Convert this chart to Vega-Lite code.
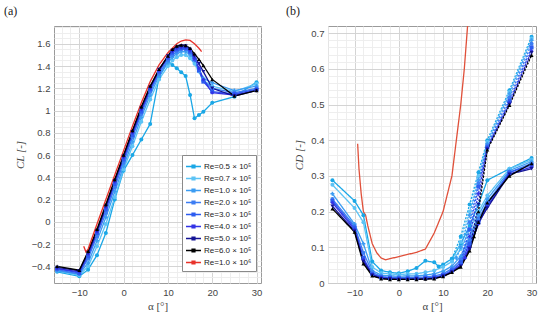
{
"$schema": "https://vega.github.io/schema/vega-lite/v6.json",
"background": "white",
"padding": {"left": 3, "top": 4, "right": 5, "bottom": 4},
"spacing": 22,
"config": {
  "view": {"stroke": "#9a9a9a", "strokeWidth": 1},
  "font": "Liberation Sans",
  "axis": {"labelFont": "Liberation Sans", "labelFontSize": 9.5, "labelColor": "#444", "titleFont": "Liberation Serif", "titleFontSize": 11, "titleFontWeight": "normal", "titleColor": "#444", "ticks": false, "domain": false, "gridColor": "#d0d0d0", "gridWidth": 0.9, "labelPadding": 4},
  "legend": {"labelFont": "Liberation Sans"}
},
"datasets": {
"cl": [
{"s":"0.5","a":-15,"cl":-0.45},{"s":"0.5","a":-10,"cl":-0.49},{"s":"0.5","a":-8,"cl":-0.43},{"s":"0.5","a":-6,"cl":-0.30},{"s":"0.5","a":-4,"cl":-0.10},{"s":"0.5","a":-2,"cl":0.20},{"s":"0.5","a":0,"cl":0.46},{"s":"0.5","a":2,"cl":0.60},{"s":"0.5","a":4,"cl":0.74},{"s":"0.5","a":6,"cl":0.88},{"s":"0.5","a":8,"cl":1.30},{"s":"0.5","a":10,"cl":1.44},{"s":"0.5","a":11,"cl":1.41},{"s":"0.5","a":12,"cl":1.38},{"s":"0.5","a":13,"cl":1.345},{"s":"0.5","a":14,"cl":1.31},{"s":"0.5","a":15,"cl":1.14},{"s":"0.5","a":16,"cl":0.93},{"s":"0.5","a":17,"cl":0.96},{"s":"0.5","a":18,"cl":0.99},{"s":"0.5","a":20,"cl":1.07},{"s":"0.5","a":25,"cl":1.125},{"s":"0.5","a":30,"cl":1.255},
{"s":"0.7","a":-15,"cl":-0.44},{"s":"0.7","a":-10,"cl":-0.48},{"s":"0.7","a":-8,"cl":-0.40},{"s":"0.7","a":-6,"cl":-0.22},{"s":"0.7","a":-4,"cl":-0.02},{"s":"0.7","a":-2,"cl":0.22},{"s":"0.7","a":0,"cl":0.47},{"s":"0.7","a":2,"cl":0.68},{"s":"0.7","a":4,"cl":0.90},{"s":"0.7","a":6,"cl":1.10},{"s":"0.7","a":8,"cl":1.28},{"s":"0.7","a":10,"cl":1.40},{"s":"0.7","a":11,"cl":1.45},{"s":"0.7","a":12,"cl":1.48},{"s":"0.7","a":13,"cl":1.50},{"s":"0.7","a":14,"cl":1.50},{"s":"0.7","a":15,"cl":1.47},{"s":"0.7","a":16,"cl":1.42},{"s":"0.7","a":17,"cl":1.35},{"s":"0.7","a":18,"cl":1.27},{"s":"0.7","a":20,"cl":1.22},{"s":"0.7","a":25,"cl":1.17},{"s":"0.7","a":30,"cl":1.24},
{"s":"1.0","a":-15,"cl":-0.44},{"s":"1.0","a":-10,"cl":-0.47},{"s":"1.0","a":-8,"cl":-0.37},{"s":"1.0","a":-6,"cl":-0.17},{"s":"1.0","a":-4,"cl":0.04},{"s":"1.0","a":-2,"cl":0.27},{"s":"1.0","a":0,"cl":0.50},{"s":"1.0","a":2,"cl":0.72},{"s":"1.0","a":4,"cl":0.94},{"s":"1.0","a":6,"cl":1.14},{"s":"1.0","a":8,"cl":1.31},{"s":"1.0","a":10,"cl":1.43},{"s":"1.0","a":11,"cl":1.48},{"s":"1.0","a":12,"cl":1.51},{"s":"1.0","a":13,"cl":1.53},{"s":"1.0","a":14,"cl":1.53},{"s":"1.0","a":15,"cl":1.50},{"s":"1.0","a":16,"cl":1.45},{"s":"1.0","a":17,"cl":1.37},{"s":"1.0","a":18,"cl":1.29},{"s":"1.0","a":20,"cl":1.25},{"s":"1.0","a":25,"cl":1.18},{"s":"1.0","a":30,"cl":1.22},
{"s":"2.0","a":-15,"cl":-0.43},{"s":"2.0","a":-10,"cl":-0.47},{"s":"2.0","a":-8,"cl":-0.33},{"s":"2.0","a":-6,"cl":-0.13},{"s":"2.0","a":-4,"cl":0.08},{"s":"2.0","a":-2,"cl":0.31},{"s":"2.0","a":0,"cl":0.53},{"s":"2.0","a":2,"cl":0.76},{"s":"2.0","a":4,"cl":0.97},{"s":"2.0","a":6,"cl":1.17},{"s":"2.0","a":8,"cl":1.33},{"s":"2.0","a":10,"cl":1.45},{"s":"2.0","a":11,"cl":1.50},{"s":"2.0","a":12,"cl":1.53},{"s":"2.0","a":13,"cl":1.55},{"s":"2.0","a":14,"cl":1.55},{"s":"2.0","a":15,"cl":1.52},{"s":"2.0","a":16,"cl":1.46},{"s":"2.0","a":17,"cl":1.37},{"s":"2.0","a":18,"cl":1.27},{"s":"2.0","a":20,"cl":1.20},{"s":"2.0","a":25,"cl":1.16},{"s":"2.0","a":30,"cl":1.20},
{"s":"3.0","a":-15,"cl":-0.42},{"s":"3.0","a":-10,"cl":-0.46},{"s":"3.0","a":-8,"cl":-0.31},{"s":"3.0","a":-6,"cl":-0.10},{"s":"3.0","a":-4,"cl":0.11},{"s":"3.0","a":-2,"cl":0.34},{"s":"3.0","a":0,"cl":0.56},{"s":"3.0","a":2,"cl":0.78},{"s":"3.0","a":4,"cl":0.99},{"s":"3.0","a":6,"cl":1.19},{"s":"3.0","a":8,"cl":1.35},{"s":"3.0","a":10,"cl":1.47},{"s":"3.0","a":11,"cl":1.52},{"s":"3.0","a":12,"cl":1.55},{"s":"3.0","a":13,"cl":1.56},{"s":"3.0","a":14,"cl":1.56},{"s":"3.0","a":15,"cl":1.53},{"s":"3.0","a":16,"cl":1.46},{"s":"3.0","a":17,"cl":1.36},{"s":"3.0","a":18,"cl":1.26},{"s":"3.0","a":20,"cl":1.17},{"s":"3.0","a":25,"cl":1.15},{"s":"3.0","a":30,"cl":1.19},
{"s":"4.0","a":-15,"cl":-0.42},{"s":"4.0","a":-10,"cl":-0.45},{"s":"4.0","a":-8,"cl":-0.29},{"s":"4.0","a":-6,"cl":-0.09},{"s":"4.0","a":-4,"cl":0.13},{"s":"4.0","a":-2,"cl":0.36},{"s":"4.0","a":0,"cl":0.58},{"s":"4.0","a":2,"cl":0.80},{"s":"4.0","a":4,"cl":1.01},{"s":"4.0","a":6,"cl":1.20},{"s":"4.0","a":8,"cl":1.36},{"s":"4.0","a":10,"cl":1.48},{"s":"4.0","a":11,"cl":1.53},{"s":"4.0","a":12,"cl":1.56},{"s":"4.0","a":13,"cl":1.57},{"s":"4.0","a":14,"cl":1.57},{"s":"4.0","a":15,"cl":1.54},{"s":"4.0","a":16,"cl":1.47},{"s":"4.0","a":17,"cl":1.38},{"s":"4.0","a":18,"cl":1.28},{"s":"4.0","a":20,"cl":1.16},{"s":"4.0","a":25,"cl":1.14},{"s":"4.0","a":30,"cl":1.18},
{"s":"5.0","a":-15,"cl":-0.41},{"s":"5.0","a":-10,"cl":-0.44},{"s":"5.0","a":-8,"cl":-0.28},{"s":"5.0","a":-6,"cl":-0.08},{"s":"5.0","a":-4,"cl":0.14},{"s":"5.0","a":-2,"cl":0.37},{"s":"5.0","a":0,"cl":0.59},{"s":"5.0","a":2,"cl":0.81},{"s":"5.0","a":4,"cl":1.02},{"s":"5.0","a":6,"cl":1.21},{"s":"5.0","a":8,"cl":1.37},{"s":"5.0","a":10,"cl":1.49},{"s":"5.0","a":11,"cl":1.54},{"s":"5.0","a":12,"cl":1.57},{"s":"5.0","a":13,"cl":1.58},{"s":"5.0","a":14,"cl":1.58},{"s":"5.0","a":15,"cl":1.55},{"s":"5.0","a":16,"cl":1.49},{"s":"5.0","a":17,"cl":1.42},{"s":"5.0","a":18,"cl":1.35},{"s":"5.0","a":20,"cl":1.20},{"s":"5.0","a":25,"cl":1.13},{"s":"5.0","a":30,"cl":1.18},
{"s":"6.0","a":-15,"cl":-0.40},{"s":"6.0","a":-10,"cl":-0.435},{"s":"6.0","a":-8,"cl":-0.265},{"s":"6.0","a":-6,"cl":-0.066},{"s":"6.0","a":-4,"cl":0.156},{"s":"6.0","a":-2,"cl":0.38},{"s":"6.0","a":0,"cl":0.60},{"s":"6.0","a":2,"cl":0.82},{"s":"6.0","a":4,"cl":1.035},{"s":"6.0","a":6,"cl":1.22},{"s":"6.0","a":8,"cl":1.37},{"s":"6.0","a":10,"cl":1.49},{"s":"6.0","a":11,"cl":1.55},{"s":"6.0","a":12,"cl":1.58},{"s":"6.0","a":13,"cl":1.59},{"s":"6.0","a":14,"cl":1.585},{"s":"6.0","a":15,"cl":1.56},{"s":"6.0","a":16,"cl":1.51},{"s":"6.0","a":17,"cl":1.46},{"s":"6.0","a":18,"cl":1.405},{"s":"6.0","a":20,"cl":1.28},{"s":"6.0","a":25,"cl":1.13},{"s":"6.0","a":30,"cl":1.18},
{"s":"10","a":-9,"cl":-0.22},{"s":"10","a":-8.5,"cl":-0.27},{"s":"10","a":-8,"cl":-0.245},{"s":"10","a":-6,"cl":-0.02},{"s":"10","a":-4,"cl":0.20},{"s":"10","a":-2,"cl":0.42},{"s":"10","a":0,"cl":0.64},{"s":"10","a":2,"cl":0.86},{"s":"10","a":4,"cl":1.07},{"s":"10","a":6,"cl":1.26},{"s":"10","a":8,"cl":1.41},{"s":"10","a":10,"cl":1.52},{"s":"10","a":12,"cl":1.60},{"s":"10","a":13,"cl":1.625},{"s":"10","a":14,"cl":1.635},{"s":"10","a":15,"cl":1.63},{"s":"10","a":16,"cl":1.60},{"s":"10","a":17,"cl":1.56},{"s":"10","a":17.6,"cl":1.53}
],
"cd": [
{"s":"0.5","b":"m","a":-15,"cd":0.288},{"s":"0.5","b":"m","a":-10,"cd":0.23},{"s":"0.5","b":"m","a":-8,"cd":0.19},{"s":"0.5","b":"m","a":-6,"cd":0.06},{"s":"0.5","b":"m","a":-4,"cd":0.035},{"s":"0.5","b":"m","a":-2,"cd":0.03},{"s":"0.5","b":"m","a":0,"cd":0.027},{"s":"0.5","b":"m","a":2,"cd":0.033},{"s":"0.5","b":"m","a":4,"cd":0.042},{"s":"0.5","b":"m","a":6,"cd":0.062},{"s":"0.5","b":"m","a":8,"cd":0.058},{"s":"0.5","b":"m","a":9,"cd":0.046},{"s":"0.5","b":"m","a":10,"cd":0.052},{"s":"0.5","b":"m","a":12,"cd":0.068},{"s":"0.5","b":"m","a":14,"cd":0.11},{"s":"0.5","b":"m","a":16,"cd":0.16},{"s":"0.5","b":"m","a":18,"cd":0.22},{"s":"0.5","b":"m","a":20,"cd":0.288},{"s":"0.5","b":"m","a":25,"cd":0.32},{"s":"0.5","b":"m","a":30,"cd":0.35},
{"s":"0.7","b":"m","a":-15,"cd":0.275},{"s":"0.7","b":"m","a":-10,"cd":0.21},{"s":"0.7","b":"m","a":-8,"cd":0.17},{"s":"0.7","b":"m","a":-6,"cd":0.045},{"s":"0.7","b":"m","a":-4,"cd":0.028},{"s":"0.7","b":"m","a":-2,"cd":0.025},{"s":"0.7","b":"m","a":0,"cd":0.024},{"s":"0.7","b":"m","a":2,"cd":0.025},{"s":"0.7","b":"m","a":4,"cd":0.026},{"s":"0.7","b":"m","a":6,"cd":0.03},{"s":"0.7","b":"m","a":8,"cd":0.035},{"s":"0.7","b":"m","a":10,"cd":0.045},{"s":"0.7","b":"m","a":12,"cd":0.06},{"s":"0.7","b":"m","a":14,"cd":0.095},{"s":"0.7","b":"m","a":16,"cd":0.15},{"s":"0.7","b":"m","a":18,"cd":0.2},{"s":"0.7","b":"m","a":20,"cd":0.245},{"s":"0.7","b":"m","a":25,"cd":0.32},{"s":"0.7","b":"m","a":30,"cd":0.345},
{"s":"1.0","b":"m","a":-15,"cd":0.25},{"s":"1.0","b":"m","a":-10,"cd":0.165},{"s":"1.0","b":"m","a":-8,"cd":0.11},{"s":"1.0","b":"m","a":-6,"cd":0.035},{"s":"1.0","b":"m","a":-4,"cd":0.022},{"s":"1.0","b":"m","a":-2,"cd":0.02},{"s":"1.0","b":"m","a":0,"cd":0.019},{"s":"1.0","b":"m","a":2,"cd":0.02},{"s":"1.0","b":"m","a":4,"cd":0.02},{"s":"1.0","b":"m","a":6,"cd":0.022},{"s":"1.0","b":"m","a":8,"cd":0.026},{"s":"1.0","b":"m","a":10,"cd":0.033},{"s":"1.0","b":"m","a":12,"cd":0.047},{"s":"1.0","b":"m","a":14,"cd":0.075},{"s":"1.0","b":"m","a":16,"cd":0.13},{"s":"1.0","b":"m","a":18,"cd":0.19},{"s":"1.0","b":"m","a":20,"cd":0.235},{"s":"1.0","b":"m","a":25,"cd":0.315},{"s":"1.0","b":"m","a":30,"cd":0.34},
{"s":"2.0","b":"m","a":-15,"cd":0.235},{"s":"2.0","b":"m","a":-10,"cd":0.16},{"s":"2.0","b":"m","a":-8,"cd":0.085},{"s":"2.0","b":"m","a":-6,"cd":0.03},{"s":"2.0","b":"m","a":-4,"cd":0.018},{"s":"2.0","b":"m","a":-2,"cd":0.016},{"s":"2.0","b":"m","a":0,"cd":0.015},{"s":"2.0","b":"m","a":2,"cd":0.015},{"s":"2.0","b":"m","a":4,"cd":0.016},{"s":"2.0","b":"m","a":6,"cd":0.017},{"s":"2.0","b":"m","a":8,"cd":0.02},{"s":"2.0","b":"m","a":10,"cd":0.026},{"s":"2.0","b":"m","a":12,"cd":0.04},{"s":"2.0","b":"m","a":14,"cd":0.065},{"s":"2.0","b":"m","a":16,"cd":0.12},{"s":"2.0","b":"m","a":18,"cd":0.18},{"s":"2.0","b":"m","a":20,"cd":0.225},{"s":"2.0","b":"m","a":25,"cd":0.31},{"s":"2.0","b":"m","a":30,"cd":0.335},
{"s":"3.0","b":"m","a":-15,"cd":0.23},{"s":"3.0","b":"m","a":-10,"cd":0.155},{"s":"3.0","b":"m","a":-8,"cd":0.07},{"s":"3.0","b":"m","a":-6,"cd":0.025},{"s":"3.0","b":"m","a":-4,"cd":0.016},{"s":"3.0","b":"m","a":-2,"cd":0.014},{"s":"3.0","b":"m","a":0,"cd":0.013},{"s":"3.0","b":"m","a":2,"cd":0.013},{"s":"3.0","b":"m","a":4,"cd":0.013},{"s":"3.0","b":"m","a":6,"cd":0.014},{"s":"3.0","b":"m","a":8,"cd":0.016},{"s":"3.0","b":"m","a":10,"cd":0.022},{"s":"3.0","b":"m","a":12,"cd":0.035},{"s":"3.0","b":"m","a":14,"cd":0.058},{"s":"3.0","b":"m","a":16,"cd":0.11},{"s":"3.0","b":"m","a":18,"cd":0.17},{"s":"3.0","b":"m","a":20,"cd":0.22},{"s":"3.0","b":"m","a":25,"cd":0.31},{"s":"3.0","b":"m","a":30,"cd":0.33},
{"s":"4.0","b":"m","a":-15,"cd":0.225},{"s":"4.0","b":"m","a":-10,"cd":0.15},{"s":"4.0","b":"m","a":-8,"cd":0.065},{"s":"4.0","b":"m","a":-6,"cd":0.024},{"s":"4.0","b":"m","a":-4,"cd":0.015},{"s":"4.0","b":"m","a":-2,"cd":0.012},{"s":"4.0","b":"m","a":0,"cd":0.011},{"s":"4.0","b":"m","a":2,"cd":0.011},{"s":"4.0","b":"m","a":4,"cd":0.011},{"s":"4.0","b":"m","a":6,"cd":0.012},{"s":"4.0","b":"m","a":8,"cd":0.014},{"s":"4.0","b":"m","a":10,"cd":0.02},{"s":"4.0","b":"m","a":12,"cd":0.032},{"s":"4.0","b":"m","a":14,"cd":0.052},{"s":"4.0","b":"m","a":16,"cd":0.1},{"s":"4.0","b":"m","a":18,"cd":0.165},{"s":"4.0","b":"m","a":20,"cd":0.215},{"s":"4.0","b":"m","a":25,"cd":0.305},{"s":"4.0","b":"m","a":30,"cd":0.325},
{"s":"5.0","b":"m","a":-15,"cd":0.215},{"s":"5.0","b":"m","a":-10,"cd":0.145},{"s":"5.0","b":"m","a":-8,"cd":0.06},{"s":"5.0","b":"m","a":-6,"cd":0.022},{"s":"5.0","b":"m","a":-4,"cd":0.013},{"s":"5.0","b":"m","a":-2,"cd":0.011},{"s":"5.0","b":"m","a":0,"cd":0.01},{"s":"5.0","b":"m","a":2,"cd":0.01},{"s":"5.0","b":"m","a":4,"cd":0.011},{"s":"5.0","b":"m","a":6,"cd":0.011},{"s":"5.0","b":"m","a":8,"cd":0.013},{"s":"5.0","b":"m","a":10,"cd":0.019},{"s":"5.0","b":"m","a":12,"cd":0.03},{"s":"5.0","b":"m","a":14,"cd":0.048},{"s":"5.0","b":"m","a":16,"cd":0.095},{"s":"5.0","b":"m","a":18,"cd":0.17},{"s":"5.0","b":"m","a":20,"cd":0.21},{"s":"5.0","b":"m","a":25,"cd":0.305},{"s":"5.0","b":"m","a":30,"cd":0.32},
{"s":"6.0","b":"m","a":-15,"cd":0.208},{"s":"6.0","b":"m","a":-10,"cd":0.143},{"s":"6.0","b":"m","a":-8,"cd":0.054},{"s":"6.0","b":"m","a":-6,"cd":0.02},{"s":"6.0","b":"m","a":-4,"cd":0.012},{"s":"6.0","b":"m","a":-2,"cd":0.01},{"s":"6.0","b":"m","a":0,"cd":0.01},{"s":"6.0","b":"m","a":2,"cd":0.01},{"s":"6.0","b":"m","a":4,"cd":0.01},{"s":"6.0","b":"m","a":6,"cd":0.011},{"s":"6.0","b":"m","a":8,"cd":0.012},{"s":"6.0","b":"m","a":10,"cd":0.018},{"s":"6.0","b":"m","a":12,"cd":0.03},{"s":"6.0","b":"m","a":14,"cd":0.045},{"s":"6.0","b":"m","a":16,"cd":0.09},{"s":"6.0","b":"m","a":18,"cd":0.17},{"s":"6.0","b":"m","a":20,"cd":0.225},{"s":"6.0","b":"m","a":25,"cd":0.30},{"s":"6.0","b":"m","a":30,"cd":0.335},
{"s":"0.5","b":"d","a":12,"cd":0.068},{"s":"0.5","b":"d","a":14,"cd":0.13},{"s":"0.5","b":"d","a":16,"cd":0.22},{"s":"0.5","b":"d","a":18,"cd":0.31},{"s":"0.5","b":"d","a":20,"cd":0.40},{"s":"0.5","b":"d","a":25,"cd":0.54},{"s":"0.5","b":"d","a":30,"cd":0.69},
{"s":"0.7","b":"d","a":12,"cd":0.06},{"s":"0.7","b":"d","a":14,"cd":0.115},{"s":"0.7","b":"d","a":16,"cd":0.2},{"s":"0.7","b":"d","a":18,"cd":0.3},{"s":"0.7","b":"d","a":20,"cd":0.395},{"s":"0.7","b":"d","a":25,"cd":0.535},{"s":"0.7","b":"d","a":30,"cd":0.685},
{"s":"1.0","b":"d","a":13,"cd":0.07},{"s":"1.0","b":"d","a":14,"cd":0.1},{"s":"1.0","b":"d","a":16,"cd":0.19},{"s":"1.0","b":"d","a":18,"cd":0.29},{"s":"1.0","b":"d","a":20,"cd":0.39},{"s":"1.0","b":"d","a":25,"cd":0.53},{"s":"1.0","b":"d","a":30,"cd":0.68},
{"s":"2.0","b":"d","a":14,"cd":0.065},{"s":"2.0","b":"d","a":16,"cd":0.17},{"s":"2.0","b":"d","a":18,"cd":0.28},{"s":"2.0","b":"d","a":20,"cd":0.385},{"s":"2.0","b":"d","a":25,"cd":0.52},{"s":"2.0","b":"d","a":30,"cd":0.67},
{"s":"3.0","b":"d","a":14,"cd":0.058},{"s":"3.0","b":"d","a":16,"cd":0.15},{"s":"3.0","b":"d","a":18,"cd":0.27},{"s":"3.0","b":"d","a":20,"cd":0.38},{"s":"3.0","b":"d","a":25,"cd":0.51},{"s":"3.0","b":"d","a":30,"cd":0.66},
{"s":"4.0","b":"d","a":15,"cd":0.07},{"s":"4.0","b":"d","a":16,"cd":0.13},{"s":"4.0","b":"d","a":18,"cd":0.25},{"s":"4.0","b":"d","a":20,"cd":0.378},{"s":"4.0","b":"d","a":25,"cd":0.505},{"s":"4.0","b":"d","a":30,"cd":0.65},
{"s":"5.0","b":"d","a":16,"cd":0.095},{"s":"5.0","b":"d","a":18,"cd":0.22},{"s":"5.0","b":"d","a":20,"cd":0.375},{"s":"5.0","b":"d","a":25,"cd":0.50},{"s":"5.0","b":"d","a":30,"cd":0.645},
{"s":"6.0","b":"d","a":17,"cd":0.13},{"s":"6.0","b":"d","a":18,"cd":0.2},{"s":"6.0","b":"d","a":20,"cd":0.373},{"s":"6.0","b":"d","a":25,"cd":0.498},{"s":"6.0","b":"d","a":30,"cd":0.638},
{"s":"10","b":"m","a":-9.3,"cd":0.39},{"s":"10","b":"m","a":-9,"cd":0.32},{"s":"10","b":"m","a":-8.5,"cd":0.25},{"s":"10","b":"m","a":-8,"cd":0.2},{"s":"10","b":"m","a":-7.5,"cd":0.19},{"s":"10","b":"m","a":-7,"cd":0.16},{"s":"10","b":"m","a":-6,"cd":0.11},{"s":"10","b":"m","a":-5,"cd":0.085},{"s":"10","b":"m","a":-4,"cd":0.07},{"s":"10","b":"m","a":-3,"cd":0.065},{"s":"10","b":"m","a":-2,"cd":0.068},{"s":"10","b":"m","a":0,"cd":0.074},{"s":"10","b":"m","a":2,"cd":0.08},{"s":"10","b":"m","a":4,"cd":0.086},{"s":"10","b":"m","a":6,"cd":0.095},{"s":"10","b":"m","a":8,"cd":0.14},{"s":"10","b":"m","a":10,"cd":0.2},{"s":"10","b":"m","a":12,"cd":0.3},{"s":"10","b":"m","a":13,"cd":0.4},{"s":"10","b":"m","a":14,"cd":0.5},{"s":"10","b":"m","a":14.8,"cd":0.6},{"s":"10","b":"m","a":15.6,"cd":0.73}
]
},
"hconcat": [
{
  "width": 207, "height": 257,
  "title": {"text": "(a)", "anchor": "start", "frame": "group", "dx": -50, "font": "Liberation Serif", "fontSize": 12, "fontWeight": "normal", "color": "#222", "offset": 8},
  "data": {"name": "cl"},
  "layer": [
    {"mark": {"type": "line", "strokeWidth": 1.3, "clip": true},
     "encoding": {
       "x": {"field": "a", "type": "quantitative", "scale": {"domain": [-15.7, 31], "nice": false, "zero": false},
             "axis": {"orient": "bottom", "values": [-14,-12,-10,-8,-6,-4,-2,0,2,4,6,8,10,12,14,16,18,20,22,24,26,28,30], "grid": true, "gridColor": "#ececec", "labels": false, "title": null}},
       "y": {"field": "cl", "type": "quantitative", "scale": {"domain": [-0.55, 1.76], "nice": false, "zero": false},
             "axis": {"orient": "left", "values": [-0.5,-0.45,-0.4,-0.35,-0.3,-0.25,-0.2,-0.15,-0.1,-0.05,0,0.05,0.1,0.15,0.2,0.25,0.3,0.35,0.4,0.45,0.5,0.55,0.6,0.65,0.7,0.75,0.8,0.85,0.9,0.95,1,1.05,1.1,1.15,1.2,1.25,1.3,1.35,1.4,1.45,1.5,1.55,1.6,1.65,1.7,1.75], "grid": true, "gridColor": "#ececec", "labels": false, "title": null}},
       "color": {"field": "s", "type": "nominal",
                 "scale": {"domain": ["0.5","0.7","1.0","2.0","3.0","4.0","5.0","6.0","10"], "range": ["#1aa7e6","#5cc3f5","#3b9cf2","#3c7df3","#2d5cf0","#3333e6","#141496","#000000","#e8322a"]},
                 "legend": {"orient": "none", "legendX": 128, "legendY": 129, "title": null, "strokeColor": "#8a8a8a", "fillColor": "white", "padding": 4, "labelFontSize": 8, "labelColor": "#222", "rowPadding": -2.2, "symbolType": "M-1,-0.09H1V0.09H-1Z M-0.28,-0.28H0.28V0.28H-0.28Z", "symbolSize": 225, "symbolStrokeWidth": 0, "labelOffset": 3,
                            "labelExpr": "datum.label == '10' ? 'Re=1.0 × 10⁶' : 'Re=' + datum.label + ' × 10⁵'"}}
     }},
    {"mark": {"type": "point", "filled": true, "size": 16, "opacity": 1},
     "transform": [{"filter": "datum.s !== '10'"}],
     "encoding": {
       "x": {"field": "a", "type": "quantitative", "axis": {"orient": "bottom", "values": [-10,0,10,20,30], "grid": true, "title": "α [°]"}},
       "y": {"field": "cl", "type": "quantitative", "axis": {"orient": "left", "values": [-0.4,-0.2,0,0.2,0.4,0.6,0.8,1,1.2,1.4,1.6], "grid": true, "format": "~g", "title": "CL [-]", "titleFontStyle": "italic", "titlePadding": 6}},
       "color": {"field": "s", "type": "nominal"},
       "shape": {"field": "s", "type": "nominal", "legend": null,
                 "scale": {"domain": ["0.5","0.7","1.0","2.0","3.0","4.0","5.0","6.0","10"], "range": ["circle","circle","cross","circle","square","diamond","triangle-down","triangle-up","circle"]}}
     }}
  ],
  "resolve": {"axis": {"x": "independent", "y": "independent"}}
},
{
  "width": 208, "height": 257,
  "title": {"text": "(b)", "anchor": "start", "frame": "group", "dx": -42, "font": "Liberation Serif", "fontSize": 12, "fontWeight": "normal", "color": "#222", "offset": 8},
  "data": {"name": "cd"},
  "layer": [
    {"mark": {"type": "line", "strokeWidth": 1.3, "clip": true},
     "encoding": {
       "x": {"field": "a", "type": "quantitative", "scale": {"domain": [-16, 31], "nice": false, "zero": false},
             "axis": {"orient": "bottom", "values": [-16,-14,-12,-10,-8,-6,-4,-2,0,2,4,6,8,10,12,14,16,18,20,22,24,26,28,30], "grid": true, "gridColor": "#ececec", "labels": false, "title": null}},
       "y": {"field": "cd", "type": "quantitative", "scale": {"domain": [0, 0.72], "nice": false, "zero": false},
             "axis": {"orient": "left", "values": [0.02,0.04,0.06,0.08,0.1,0.12,0.14,0.16,0.18,0.2,0.22,0.24,0.26,0.28,0.3,0.32,0.34,0.36,0.38,0.4,0.42,0.44,0.46,0.48,0.5,0.52,0.54,0.56,0.58,0.6,0.62,0.64,0.66,0.68,0.7], "grid": true, "gridColor": "#ececec", "labels": false, "title": null}},
       "color": {"field": "s", "type": "nominal",
                 "scale": {"domain": ["0.5","0.7","1.0","2.0","3.0","4.0","5.0","6.0","10"], "range": ["#1aa7e6","#5cc3f5","#3b9cf2","#3c7df3","#2d5cf0","#3333e6","#141496","#000000","#e0503a"]},
                 "legend": null},
       "strokeDash": {"field": "b", "type": "nominal", "legend": null, "scale": {"domain": ["m","d"], "range": [[1,0],[2,1.5]]}}
     }},
    {"mark": {"type": "point", "filled": true, "size": 16, "opacity": 1, "clip": true},
     "transform": [{"filter": "datum.s !== '10'"}],
     "encoding": {
       "x": {"field": "a", "type": "quantitative", "axis": {"orient": "bottom", "values": [-10,0,10,20,30], "grid": true, "title": "α [°]"}},
       "y": {"field": "cd", "type": "quantitative", "axis": {"orient": "left", "values": [0,0.1,0.2,0.3,0.4,0.5,0.6,0.7], "grid": true, "format": "~g", "title": "CD [-]", "titleFontStyle": "italic", "titlePadding": 6}},
       "color": {"field": "s", "type": "nominal", "legend": null},
       "shape": {"field": "s", "type": "nominal", "legend": null,
                 "scale": {"domain": ["0.5","0.7","1.0","2.0","3.0","4.0","5.0","6.0","10"], "range": ["circle","circle","cross","circle","square","diamond","triangle-down","triangle-up","circle"]}}
     }}
  ],
  "resolve": {"axis": {"x": "independent", "y": "independent"}}
}
],
"resolve": {"scale": {"color": "independent"}}
}
